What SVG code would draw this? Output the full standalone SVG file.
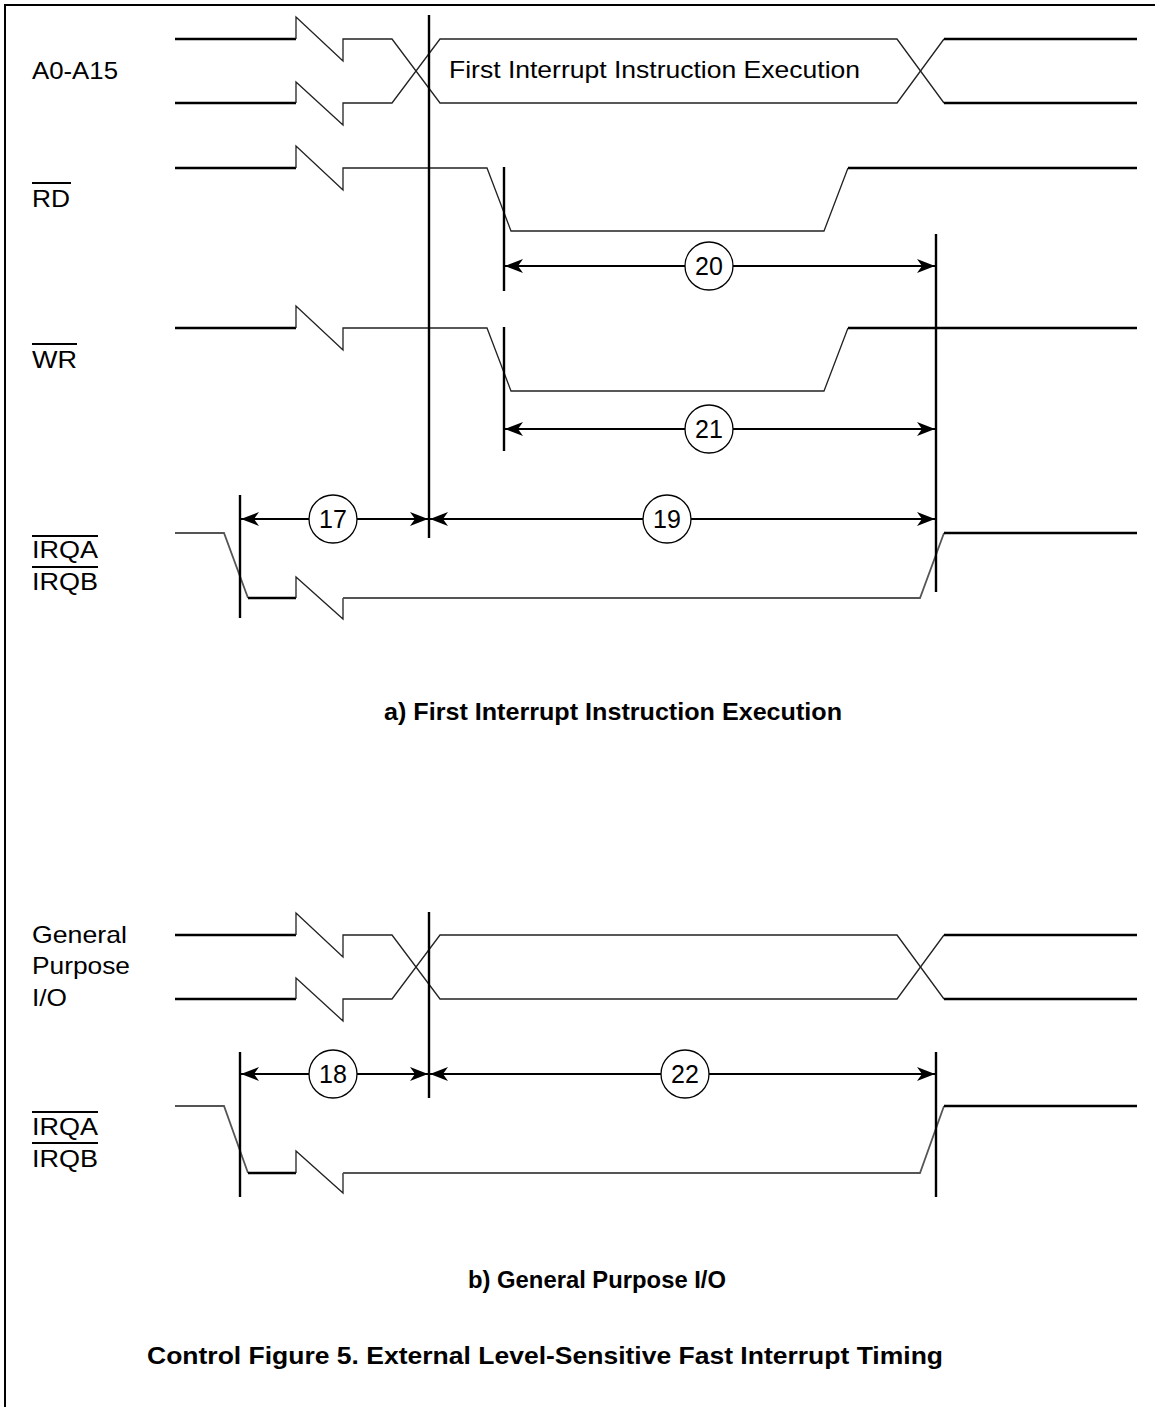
<svg xmlns="http://www.w3.org/2000/svg" width="1155" height="1412" viewBox="0 0 1155 1412">
<style>
.bg{fill:#fff}
.frame{fill:none;stroke:#000;stroke-width:2}
.thick{fill:none;stroke:#000;stroke-width:2.4;stroke-linejoin:miter}
.thin{fill:none;stroke:#222;stroke-width:1.3;stroke-linejoin:miter}
.grey{fill:none;stroke:#555;stroke-width:1.8}
.mark{fill:none;stroke:#000;stroke-width:2.4}
.dim{fill:none;stroke:#000;stroke-width:2.2}
.bubble{fill:#fff;stroke:#000;stroke-width:1.3}
.ovl{stroke:#000;stroke-width:1.8}
text{font-family:"Liberation Sans",Arial,sans-serif;fill:#000}
.lbl{font-size:24px}
.num{font-size:25px;text-anchor:middle}
.cap{font-size:24px;font-weight:bold}
</style>
<defs>
<marker id="ah" viewBox="0 0 18 14" refX="18" refY="7" markerWidth="18" markerHeight="14" markerUnits="userSpaceOnUse" orient="auto-start-reverse">
<path d="M0,0 L18,7 L0,14 L5,7 z" fill="#000"/>
</marker>
</defs>
<rect class="bg" x="0" y="0" width="1155" height="1412"/>
<g id="frame">
<path class="frame" d="M5,1407 V5 H1155"/>
</g>

<g id="labels">
<text class="lbl" x="32" y="79" textLength="86" lengthAdjust="spacingAndGlyphs">A0-A15</text>
<text class="lbl" x="32" y="207" textLength="38" lengthAdjust="spacingAndGlyphs">RD</text>
<line class="ovl" x1="32" y1="183" x2="71" y2="183"/>
<text class="lbl" x="32" y="368" textLength="45" lengthAdjust="spacingAndGlyphs">WR</text>
<line class="ovl" x1="32" y1="344" x2="77" y2="344"/>
<text class="lbl" x="32" y="558" textLength="66" lengthAdjust="spacingAndGlyphs">IRQA</text>
<line class="ovl" x1="32" y1="536" x2="98" y2="536"/>
<text class="lbl" x="32" y="590" textLength="66" lengthAdjust="spacingAndGlyphs">IRQB</text>
<line class="ovl" x1="32" y1="567" x2="98" y2="567"/>
<text class="lbl" x="32" y="943" textLength="95" lengthAdjust="spacingAndGlyphs">General</text>
<text class="lbl" x="32" y="974" textLength="98" lengthAdjust="spacingAndGlyphs">Purpose</text>
<text class="lbl" x="32" y="1006" textLength="35" lengthAdjust="spacingAndGlyphs">I/O</text>
<text class="lbl" x="32" y="1135" textLength="66" lengthAdjust="spacingAndGlyphs">IRQA</text>
<line class="ovl" x1="32" y1="1112" x2="98" y2="1112"/>
<text class="lbl" x="32" y="1167" textLength="66" lengthAdjust="spacingAndGlyphs">IRQB</text>
<line class="ovl" x1="32" y1="1143" x2="98" y2="1143"/>
</g>

<g id="sig-a0a15">
<path class="thick" d="M175,39 H296 M175,103 H296"/>
<path class="thin" d="M296,39 V17 L343,61 V39 H392 L440,103 H897 L944,39"/>
<path class="thin" d="M296,103 V82 L343,125 V103 H392 L440,39 H897 L944,103"/>
<path class="thick" d="M944,39 H1137 M944,103 H1137"/>
<text class="lbl" x="449" y="78" textLength="411" lengthAdjust="spacingAndGlyphs">First Interrupt Instruction Execution</text>
</g>

<g id="sig-rd">
<path class="thick" d="M175,168 H296"/>
<path class="thin" d="M296,168 V146 L343,190 V168 H487 L511,231 H824 L848,168"/>
<path class="thick" d="M848,168 H1137"/>
</g>

<g id="sig-wr">
<path class="thick" d="M175,328 H296"/>
<path class="thin" d="M296,328 V306 L343,350 V328 H487 L511,391 H824 L848,328"/>
<path class="thick" d="M848,328 H1137"/>
</g>

<g id="sig-irq-a">
<path class="grey" d="M175,533 H224 L248,598"/>
<path class="thick" d="M248,598 H296"/>
<path class="thin" d="M296,598 V577 L343,619 V598"/>
<path class="grey" d="M343,598 H920 L944,533"/>
<path class="thick" d="M944,533 H1137"/>
</g>

<g id="sig-gpio">
<path class="thick" d="M175,935 H296 M175,999 H296"/>
<path class="thin" d="M296,935 V913 L343,957 V935 H392 L440,999 H897 L944,935"/>
<path class="thin" d="M296,999 V978 L343,1021 V999 H392 L440,935 H897 L944,999"/>
<path class="thick" d="M944,935 H1137 M944,999 H1137"/>
</g>

<g id="sig-irq-b">
<path class="grey" d="M175,1106 H224 L248,1173"/>
<path class="thick" d="M248,1173 H296"/>
<path class="thin" d="M296,1173 V1151 L343,1193 V1173"/>
<path class="grey" d="M343,1173 H920 L944,1106"/>
<path class="thick" d="M944,1106 H1137"/>
</g>

<g id="markers">
<line class="mark" x1="429" y1="15" x2="429" y2="538"/>
<line class="mark" x1="504" y1="167" x2="504" y2="291"/>
<line class="mark" x1="504" y1="327" x2="504" y2="451"/>
<line class="mark" x1="936" y1="234" x2="936" y2="592"/>
<line class="mark" x1="240" y1="495" x2="240" y2="618"/>
<line class="mark" x1="429" y1="912" x2="429" y2="1098"/>
<line class="mark" x1="240" y1="1052" x2="240" y2="1197"/>
<line class="mark" x1="936" y1="1052" x2="936" y2="1197"/>
</g>

<g id="connectors">
<line class="dim" x1="241" y1="519" x2="428" y2="519" marker-start="url(#ah)" marker-end="url(#ah)"/>
<line class="dim" x1="430" y1="519" x2="935" y2="519" marker-start="url(#ah)" marker-end="url(#ah)"/>
<line class="dim" x1="505" y1="266" x2="935" y2="266" marker-start="url(#ah)" marker-end="url(#ah)"/>
<line class="dim" x1="505" y1="429" x2="935" y2="429" marker-start="url(#ah)" marker-end="url(#ah)"/>
<line class="dim" x1="241" y1="1074" x2="428" y2="1074" marker-start="url(#ah)" marker-end="url(#ah)"/>
<line class="dim" x1="430" y1="1074" x2="935" y2="1074" marker-start="url(#ah)" marker-end="url(#ah)"/>
</g>

<g id="t17"><circle class="bubble" cx="333" cy="519" r="24"/><text class="num" x="333" y="528">17</text></g>
<g id="t19"><circle class="bubble" cx="667" cy="519" r="24"/><text class="num" x="667" y="528">19</text></g>
<g id="t20"><circle class="bubble" cx="709" cy="266" r="24"/><text class="num" x="709" y="275">20</text></g>
<g id="t21"><circle class="bubble" cx="709" cy="429" r="24"/><text class="num" x="709" y="438">21</text></g>
<g id="t18"><circle class="bubble" cx="333" cy="1074" r="24"/><text class="num" x="333" y="1083">18</text></g>
<g id="t22"><circle class="bubble" cx="685" cy="1074" r="24"/><text class="num" x="685" y="1083">22</text></g>

<g id="captions">
<text class="cap" x="384" y="720" textLength="458" lengthAdjust="spacingAndGlyphs">a) First Interrupt Instruction Execution</text>
<text class="cap" x="468" y="1288" textLength="258" lengthAdjust="spacingAndGlyphs">b) General Purpose I/O</text>
<text class="cap" x="147" y="1364" textLength="796" lengthAdjust="spacingAndGlyphs">Control Figure 5. External Level-Sensitive Fast Interrupt Timing</text>
</g>
</svg>
